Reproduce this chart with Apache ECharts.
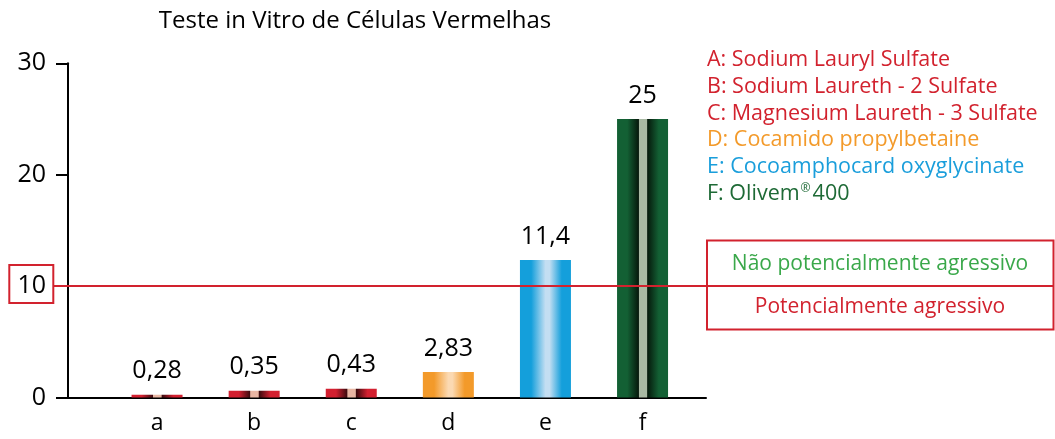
<!DOCTYPE html>
<html>
<head>
<meta charset="utf-8">
<script src="https://cdn.jsdelivr.net/npm/echarts@6/dist/echarts.min.js"></script>
<style>
  html, body { margin: 0; padding: 0; background: #fff; }
  #main { width: 1055px; height: 439px; }
</style>
</head>
<body>
<div id="main"></div>
<script>
// dados do gráfico
var categorias = ['a', 'b', 'c', 'd', 'e', 'f'];
var valores = [0.24, 0.6, 0.78, 2.3, 12.35, 25.0];   // altura das barras
var rotulos = ['0,28', '0,35', '0,43', '2,83', '11,4', '25'];
var legenda = [
  'A: Sodium Lauryl Sulfate',
  'B: Sodium Laureth - 2 Sulfate',
  'C: Magnesium Laureth - 3 Sulfate',
  'D: Cocamido propylbetaine',
  'E: Cocoamphocard oxyglycinate',
  'F: Olivem{sup|®}400'
];
var limite = 10;
var titulo = 'Teste in Vitro de Células Vermelhas';

var FONTE = '"Open Sans"';
var VERMELHO = '#d2222e';
var LARANJA = '#f39a2a';
var AZUL = '#1a9edb';
var VERDE = '#1e6a36';
var coresLegenda = [VERMELHO, VERMELHO, VERMELHO, LARANJA, AZUL, VERDE];

function faixa(borda, escuro, claro) {
  return new echarts.graphic.LinearGradient(0, 0, 1, 0, [
    { offset: 0, color: borda },
    { offset: 0.2, color: borda },
    { offset: 0.42, color: escuro },
    { offset: 0.43, color: claro },
    { offset: 0.58, color: claro },
    { offset: 0.6, color: escuro },
    { offset: 0.82, color: borda },
    { offset: 1, color: borda }
  ]);
}
function suave(borda, claro) {
  return new echarts.graphic.LinearGradient(0, 0, 1, 0, [
    { offset: 0, color: borda },
    { offset: 0.22, color: borda },
    { offset: 0.5, color: claro },
    { offset: 0.58, color: claro },
    { offset: 0.82, color: borda },
    { offset: 1, color: borda }
  ]);
}
var coresBarras = [
  faixa('#d32030', '#3c0a0e', '#e9b6a3'),
  faixa('#d32030', '#3c0a0e', '#e9b6a3'),
  faixa('#d32030', '#3c0a0e', '#e9b6a3'),
  suave('#f39a2a', '#fbd9b2'),
  suave('#149fdb', '#c3def2'),
  faixa('#136034', '#061a0c', '#a9b9a3')
];

var chart = echarts.init(document.getElementById('main'));

var grade = { top: 63.3, bottom: 41.5 };

chart.setOption({
  animation: false,
  textStyle: { fontFamily: FONTE },
  grid: [
    { left: 68, right: 349, top: grade.top, bottom: grade.bottom },
    { left: 108.5, right: 363.9, top: grade.top, bottom: grade.bottom }
  ],
  xAxis: [
    {
      gridIndex: 0, type: 'category', data: [''],
      axisLine: { lineStyle: { color: '#000', width: 2 } },
      axisTick: { show: false }, axisLabel: { show: false }
    },
    {
      gridIndex: 1, type: 'category', data: categorias,
      axisLine: { show: false }, axisTick: { show: false },
      axisLabel: { color: '#000', fontSize: 23, margin: 14, fontFamily: FONTE }
    }
  ],
  yAxis: [
    {
      gridIndex: 0, type: 'value', min: 0, max: 30, interval: 10,
      axisLine: { show: true, lineStyle: { color: '#000', width: 2 } },
      axisTick: { show: true, length: 12, lineStyle: { color: '#000', width: 2 } },
      axisLabel: { color: '#000', fontSize: 25, margin: 22, fontFamily: FONTE },
      splitLine: { show: false }
    },
    {
      gridIndex: 1, type: 'value', min: 0, max: 30, interval: 10, show: false
    }
  ],
  series: [{
    type: 'bar',
    xAxisIndex: 1, yAxisIndex: 1,
    barWidth: 51,
    data: valores.map(function (v, i) {
      return { value: v, itemStyle: { color: coresBarras[i] } };
    }),
    label: {
      show: true, position: 'top', distance: 11,
      color: '#000', fontSize: 25, fontFamily: FONTE,
      formatter: function (p) { return rotulos[p.dataIndex]; }
    },
    z: 3
  }]
});

// linha de referência e anotações
var yLim = chart.convertToPixel({ yAxisIndex: 0 }, limite);
var elementos = [
  {
    type: 'text', x: 355, y: 21,
    style: { text: titulo, fill: '#000', font: '24px ' + FONTE, align: 'center', verticalAlign: 'middle' }
  },
  {
    type: 'line', z: 10,
    shape: { x1: 54, y1: yLim, x2: 1054, y2: yLim },
    style: { stroke: VERMELHO, lineWidth: 2 }
  },
  {
    type: 'rect', z: 10,
    shape: { x: 9.3, y: yLim - 21, width: 44, height: 38 },
    style: { fill: 'none', stroke: VERMELHO, lineWidth: 2 }
  },
  {
    type: 'rect', z: 10,
    shape: { x: 707, y: yLim - 45.5, width: 346.5, height: 89 },
    style: { fill: 'none', stroke: VERMELHO, lineWidth: 2 }
  },
  {
    type: 'text', z: 10, x: 880, y: yLim - 22,
    style: { text: 'Não potencialmente agressivo', fill: '#3aa84a', font: '21px ' + FONTE, align: 'center', verticalAlign: 'middle' }
  },
  {
    type: 'text', z: 10, x: 880, y: yLim + 21,
    style: { text: 'Potencialmente agressivo', fill: VERMELHO, font: '21px ' + FONTE, align: 'center', verticalAlign: 'middle' }
  }
];
legenda.forEach(function (t, i) {
  elementos.push({
    type: 'text', x: 707, y: 60 + i * 26.7,
    style: {
      text: t, fill: coresLegenda[i], font: '21.5px ' + FONTE, verticalAlign: 'middle',
      rich: { sup: { fontSize: 12, fill: coresLegenda[i], verticalAlign: 'top', padding: [0, 2, 10, 1], fontFamily: FONTE } }
    }
  });
});
chart.setOption({ graphic: elementos });
</script>
</body>
</html>
